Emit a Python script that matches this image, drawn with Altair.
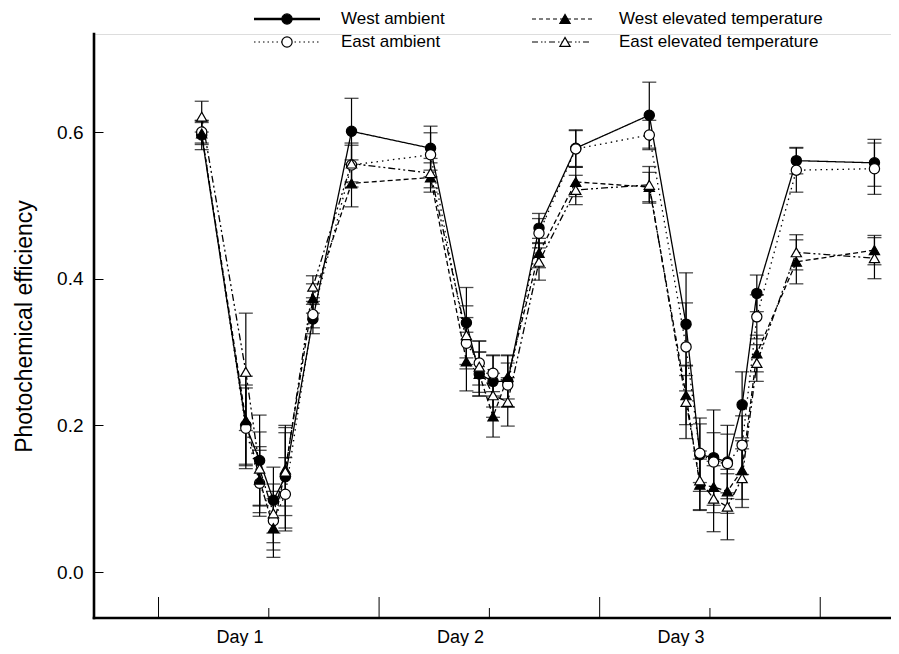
import altair as alt
import pandas as pd

# ---- data ----
hours = [4.7, 9.5, 11.0, 12.5, 13.8, 16.8, 21.0,
         29.6, 33.5, 34.9, 36.4, 38.0, 41.4, 45.4,
         53.4, 57.4, 58.9, 60.4, 61.9, 63.5, 65.1, 69.4, 77.9]

series_names = ["West ambient", "East ambient",
                "West elevated temperature", "East elevated temperature"]

west_ambient = [0.596, 0.200, 0.152, 0.098, 0.130, 0.345, 0.601,
                0.578, 0.340, 0.270, 0.260, 0.260, 0.469, 0.578,
                0.623, 0.338, 0.160, 0.156, 0.150, 0.228, 0.380, 0.561, 0.558]
east_ambient = [0.600, 0.196, 0.121, 0.070, 0.106, 0.351, 0.555,
                0.569, 0.312, 0.285, 0.271, 0.255, 0.462, 0.577,
                0.596, 0.307, 0.162, 0.150, 0.148, 0.173, 0.348, 0.548, 0.550]
west_elevated = [0.598, 0.207, 0.126, 0.060, 0.140, 0.373, 0.530,
                 0.538, 0.287, 0.270, 0.212, 0.266, 0.435, 0.532,
                 0.525, 0.241, 0.119, 0.116, 0.110, 0.139, 0.298, 0.423, 0.439]
east_elevated = [0.621, 0.273, 0.141, 0.080, 0.137, 0.389, 0.557,
                 0.544, 0.323, 0.280, 0.241, 0.232, 0.423, 0.521,
                 0.528, 0.232, 0.125, 0.100, 0.089, 0.128, 0.285, 0.436, 0.428]

west_ambient_se = [0.020, 0.055, 0.062, 0.045, 0.070, 0.020, 0.045,
                   0.030, 0.048, 0.030, 0.035, 0.035, 0.020, 0.025,
                   0.045, 0.070, 0.050, 0.065, 0.050, 0.045, 0.025, 0.018, 0.032]
east_ambient_se = [0.015, 0.055, 0.045, 0.040, 0.050, 0.018, 0.030,
                   0.030, 0.035, 0.030, 0.025, 0.030, 0.020, 0.025,
                   0.020, 0.060, 0.040, 0.040, 0.040, 0.040, 0.030, 0.030, 0.035]
west_elevated_se = [0.015, 0.060, 0.045, 0.040, 0.050, 0.020, 0.032,
                    0.020, 0.040, 0.030, 0.028, 0.030, 0.020, 0.020,
                    0.020, 0.040, 0.035, 0.035, 0.030, 0.040, 0.025, 0.030, 0.020]
east_elevated_se = [0.021, 0.080, 0.050, 0.040, 0.060, 0.015, 0.025,
                    0.020, 0.040, 0.035, 0.030, 0.033, 0.025, 0.020,
                    0.025, 0.050, 0.040, 0.045, 0.045, 0.040, 0.025, 0.024, 0.028]

day_label_pos = [8.8, 32.8, 56.8]
day_labels = ["Day 1", "Day 2", "Day 3"]
major_ticks = [0, 24, 48, 72]
minor_ticks = [12, 36, 60]
y_ticks = [0.0, 0.2, 0.4, 0.6]

# ---- table ----
vals = [west_ambient, east_ambient, west_elevated, east_elevated]
ses = [west_ambient_se, east_ambient_se, west_elevated_se, east_elevated_se]
rows = []
for name, v, s in zip(series_names, vals, ses):
    for h, a, e in zip(hours, v, s):
        rows.append({"series": name, "hour": h, "value": a, "se": e})
df = pd.DataFrame(rows)

W, H = 797, 584
FONT = "Liberation Sans"

xs = alt.Scale(domain=[-7.02, 79.7], nice=False, zero=False)
ys = alt.Scale(domain=[-0.0627, 0.7337], nice=False, zero=False)

label_expr = " : ".join(
    f"abs(datum.value - {p}) < 1 ? '{t}'" for p, t in zip(day_label_pos, day_labels)
) + " : ''"

x_axis = alt.Axis(values=day_label_pos, labelExpr=label_expr, ticks=False, domain=False,
                  grid=False, labelFontSize=18, labelPadding=10, labelColor="black",
                  labelFont=FONT, title=None)
y_axis = alt.Axis(values=y_ticks, format=".1f", offset=-9, tickSize=9, tickWidth=1,
                  tickColor="black", domain=False, grid=False, labelFontSize=19,
                  labelPadding=11, labelColor="black", labelFont=FONT,
                  title="Photochemical efficiency", titleFontSize=23,
                  titleFontWeight="normal", titleFont=FONT, titleColor="black",
                  titlePadding=20)


def X(field):
    return alt.X(field, type="quantitative", scale=xs, axis=x_axis)


def Y(field):
    return alt.Y(field, type="quantitative", scale=ys, axis=y_axis)


dashes = [[1, 0], [1.5, 4], [5, 3], [7, 3, 2, 3, 2, 3]]
shapes = ["circle", "circle", "triangle-up", "triangle-up"]
fills = ["black", "white", "black", "white"]

lines = alt.Chart(df).mark_line(color="black", strokeWidth=1.3).encode(
    x=X("hour"), y=Y("value"),
    strokeDash=alt.StrokeDash("series:N", scale=alt.Scale(domain=series_names, range=dashes), legend=None),
    detail="series:N", order="hour:Q")

err_base = alt.Chart(df).transform_calculate(lo="datum.value - datum.se", hi="datum.value + datum.se")
err_rules = err_base.mark_rule(color="black", strokeWidth=1.2).encode(
    x=X("hour"), y=Y("lo"), y2="hi:Q")
err_caps = err_base.transform_fold(["lo", "hi"], as_=["k", "v"]).mark_tick(
    orient="horizontal", size=14, thickness=1.3, color="black").encode(x=X("hour"), y=Y("v"))

points = alt.Chart(df).mark_point(filled=True, size=105, stroke="black", strokeWidth=1.2, opacity=1).encode(
    x=X("hour"), y=Y("value"),
    shape=alt.Shape("series:N", scale=alt.Scale(domain=series_names, range=shapes), legend=None),
    fill=alt.Fill("series:N", scale=alt.Scale(domain=series_names, range=fills), legend=None))

one = pd.DataFrame({"a": [0]})
y_line = alt.Chart(one).mark_rule(color="black", strokeWidth=2.6, strokeCap="square").encode(
    x=alt.value(0), y=alt.value(0), y2=alt.value(H))
x_line = alt.Chart(one).mark_rule(color="black", strokeWidth=2.6, strokeCap="square").encode(
    x=alt.value(0), x2=alt.value(W), y=alt.value(H))

major = alt.Chart(pd.DataFrame({"hour": major_ticks})).mark_rule(color="black", strokeWidth=1).encode(
    x=X("hour"), y=alt.value(H), y2=alt.value(H - 21))
minor = alt.Chart(pd.DataFrame({"hour": minor_ticks})).mark_rule(color="black", strokeWidth=1).encode(
    x=X("hour"), y=alt.value(H), y2=alt.value(H - 10))

# ---- manual legend ----
legend_layers = []
leg_pos = [(160, 226, 193, 247, -15), (160, 226, 193, 247, 8),
           (438, 498, 471, 525, -15), (438, 498, 471, 525, 8)]
leg_dash = [[1, 0], [1.5, 3], [4, 3], [6, 3, 1.5, 2, 1.5, 3]]
leg_width = [2.6, 1.2, 1.2, 1.2]
for i, name in enumerate(series_names):
    x0, x1, xm, xt, yy = leg_pos[i]
    d = pd.DataFrame({"s": [name]})
    legend_layers.append(alt.Chart(d).mark_rule(color="black", strokeWidth=leg_width[i], strokeDash=leg_dash[i]).encode(
        x=alt.value(x0), x2=alt.value(x1), y=alt.value(yy)))
    legend_layers.append(alt.Chart(d).mark_point(shape=shapes[i], filled=True, fill=fills[i], stroke="black",
                                                 strokeWidth=1.2, size=105, opacity=1).encode(
        x=alt.value(xm), y=alt.value(yy)))
    legend_layers.append(alt.Chart(d).mark_text(align="left", baseline="middle", fontSize=17, font=FONT,
                                                color="black").encode(
        x=alt.value(xt), y=alt.value(yy), text="s:N"))

chart = alt.layer(lines, err_rules, err_caps, points, major, minor, y_line, x_line, *legend_layers).properties(
    width=W, height=H,
    autosize=alt.AutoSizeParams(type="none"),
    padding={"left": 86, "top": 26, "right": 0, "bottom": 28},
).configure_view(stroke=None).configure(background="white")

chart.save("out.html", embed_options={"renderer": "svg", "actions": False})
